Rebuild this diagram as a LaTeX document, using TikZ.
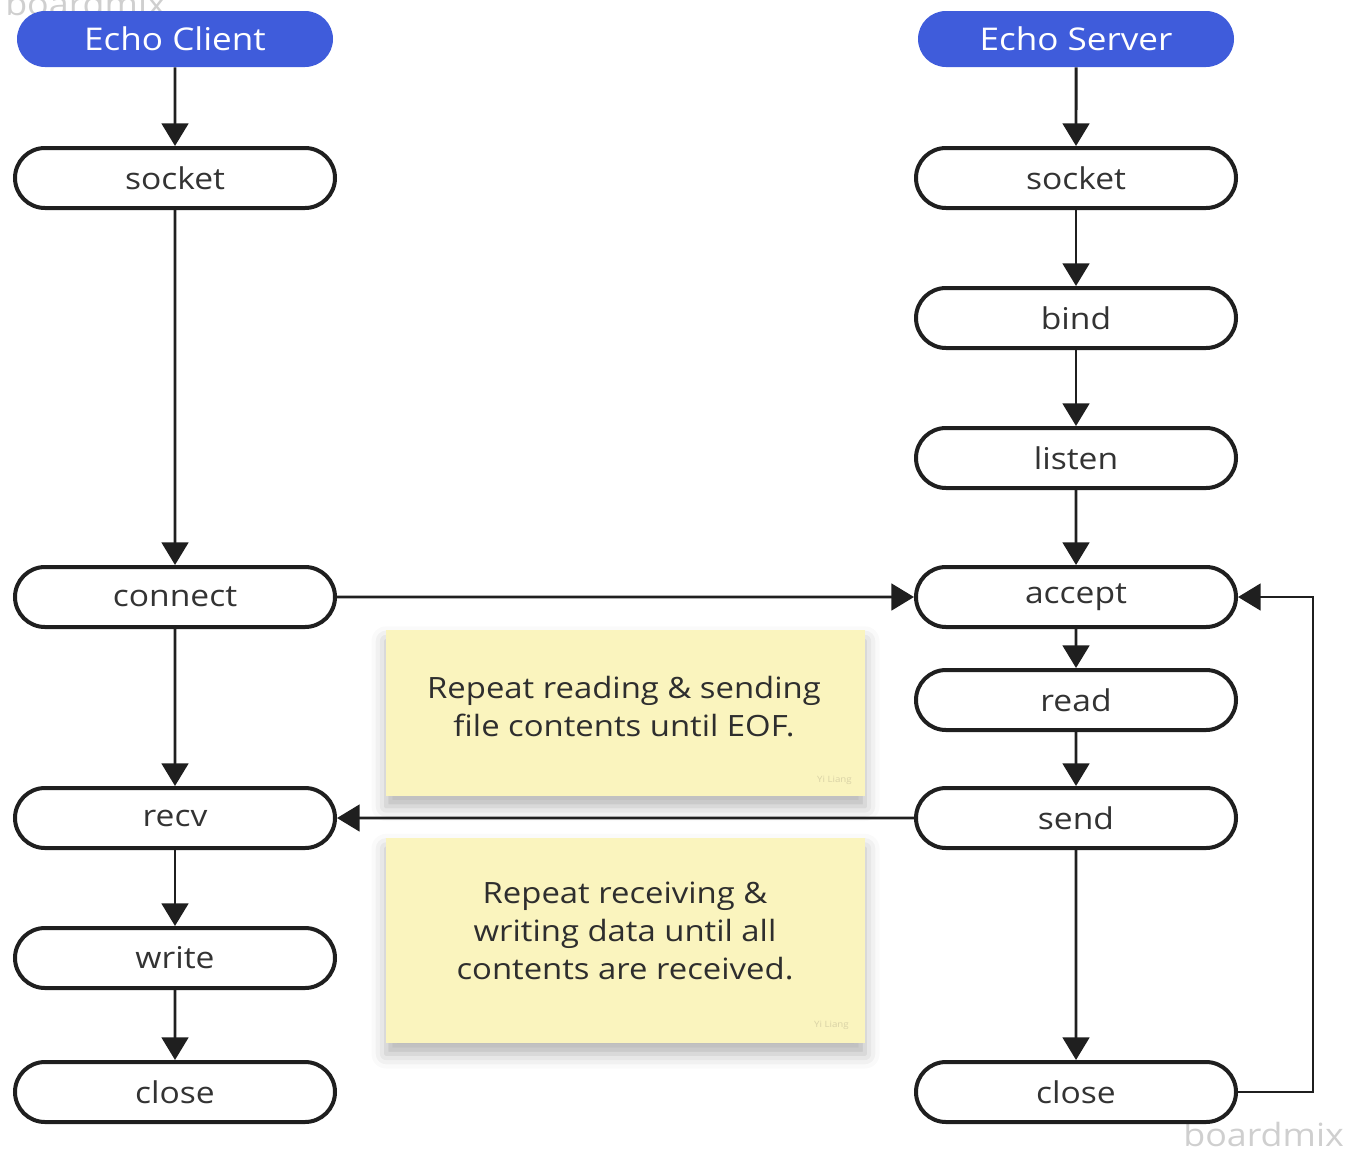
\documentclass[tikz,border=0pt]{standalone}
\usepackage{fontspec}
\setmainfont{Open Sans}[FakeStretch=1.12]
\usetikzlibrary{arrows.meta,shapes.misc,shadows.blur}
\definecolor{headblue}{HTML}{3F5CDB}
\definecolor{stepink}{HTML}{333333}
\definecolor{noteink}{HTML}{2E2E2E}
\definecolor{notefill}{HTML}{FAF4BE}
\definecolor{wmgray}{HTML}{CFCFCF}
\definecolor{signgray}{HTML}{D9D2A6}
\begin{document}
\begin{tikzpicture}[x=0.75pt,y=-0.75pt,
  pill/.style={rounded rectangle, minimum width=240pt, minimum height=45pt,
    inner sep=0pt, font=\fontsize{22.5}{28}\selectfont},
  stepbox/.style={pill, draw=black!88, line width=3pt, fill=white, text=stepink},
  headbox/.style={pill, fill=headblue, text=white, minimum width=237pt, minimum height=42pt,
    font=\fontsize{23.5}{28}\selectfont},
  arr/.style={draw=black!88, line width=2.2pt, -{Triangle[width=20pt,length=17pt]}},
  note/.style={fill=notefill, minimum width=359pt, inner sep=0pt,
    blur shadow={shadow xshift=0pt, shadow yshift=-8pt, shadow blur radius=11pt, shadow opacity=30}},
  notetext/.style={align=center, text=noteink, inner sep=0pt,
    font=\fontsize{22}{28.5}\selectfont},
  sign/.style={text=signgray, font=\fontsize{6.5}{8}\selectfont, inner sep=0pt},
  wmtext/.style={text=wmgray, font=\fontsize{24}{30}\selectfont, inner sep=0pt, anchor=base west}]
\useasboundingbox (0,0) rectangle (1351,1153);
\clip (0,0) rectangle (1351,1153);

% watermarks
\node[wmtext] (wm1) at (5,15) {boardmix};
\node[wmtext] (wm2) at (1183,1146) {boardmix};

% client column
\node[headbox] (ch) at (175,39) {Echo Client};
\node[stepbox] (csock) at (175,178) {socket};
\node[stepbox] (conn) at (175,597) {connect};
\node[stepbox] (recv) at (175,818) {recv};
\node[stepbox] (write) at (175,958) {write};
\node[stepbox] (cclose) at (175,1092) {close};

% server column
\node[headbox] (sh) at (1076,39) {Echo Server};
\node[stepbox] (ssock) at (1076,178) {socket};
\node[stepbox] (bind) at (1076,318) {bind};
\node[stepbox] (listen) at (1076,458) {listen};
\node[stepbox] (accept) at (1076,597) {accept};
\node[stepbox] (read) at (1076,700) {read};
\node[stepbox] (send) at (1076,818) {send};
\node[stepbox] (sclose) at (1076,1092) {close};

% sticky notes
\node[note, minimum height=124pt] (n1) at (625.5,713) {};
\node[notetext] (n1t) at (624,707) {Repeat reading \& sending\\file contents until EOF.};
\node[sign, anchor=east] (s1) at (852,780) {Yi Liang};
\node[note, minimum height=154pt] (n2) at (625.5,940.5) {};
\node[notetext] (n2t) at (625,931) {Repeat receiving \&\\writing data until all\\contents are received.};
\node[sign, anchor=east] (s2) at (849,1025) {Yi Liang};

% client flow
\draw[arr] (ch) -- (csock);
\draw[arr] (csock) -- (conn);
\draw[arr] (conn) -- (recv);
\draw[arr] (recv) -- (write);
\draw[arr] (write) -- (cclose);

% server flow
\draw[arr] (sh) -- (ssock);
\draw[arr] (ssock) -- (bind);
\draw[arr] (bind) -- (listen);
\draw[arr] (listen) -- (accept);
\draw[arr] (accept) -- (read);
\draw[arr] (read) -- (send);
\draw[arr] (send) -- (sclose);

% cross links
\draw[arr] (conn) -- (accept);
\draw[arr] (send) -- (recv);

% loop back to accept
\coordinate (loop) at (1313,0);
\draw[arr] (sclose.east) -- (sclose.east -| loop) -- (accept.east -| loop) -- (accept.east);
\end{tikzpicture}
\end{document}
